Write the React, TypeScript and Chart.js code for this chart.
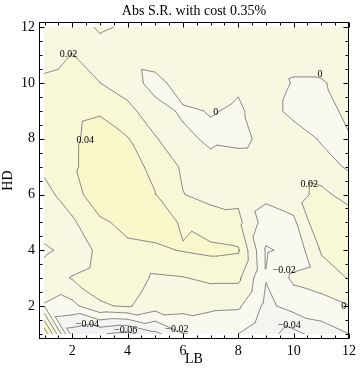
import React, { useEffect, useRef } from 'react';
import { Chart, registerables } from 'chart.js';

Chart.register(...registerables);

// ---- data: Abs S.R. (with 0.35% cost) sampled on the LB x HD grid ----
const LB = [1, 2, 3, 4, 5, 6, 7, 8, 9, 10, 11, 12];
const HD = [1, 2, 3, 4, 5, 6, 7, 8, 9, 10, 11, 12];

// one row per HD value, values listed for LB = 1..12
const srHD12 = [0.012, 0.012, 0.022, 0.018, 0.014, 0.012, 0.010, 0.010, 0.008, 0.006, 0.006, 0.008];
const srHD11 = [0.014, 0.0205, 0.013, 0.008, 0.012, 0.010, 0.008, 0.006, 0.005, 0.0035, 0.005, 0.006];
const srHD10 = [0.0232, 0.026, 0.0202, 0.010, -0.0077, 0.0106, 0.006, 0.002, 0.007, -0.001, -0.001, 0.004];
const srHD9 = [0.028, 0.0359, 0.0384, 0.026, 0.0077, -0.003, 0.001, -0.002, 0.0067, -0.0045, -0.005, 0.003];
const srHD8 = [0.030, 0.037, 0.047, 0.041, 0.0217, 0.0045, -0.0034, -0.006, 0.006, 0.008, -0.0015, -0.001];
const srHD7 = [0.024, 0.037, 0.050, 0.046, 0.036, 0.017, 0.006, 0.0116, 0.012, 0.012, 0.006, -0.002];
const srHD6 = [0.014, 0.030, 0.055, 0.052, 0.0405, 0.0205, 0.014, 0.015, 0.005, 0.012, 0.0263, 0.010];
const srHD5 = [0.010, 0.017, 0.036, 0.0463, 0.048, 0.038, 0.030, 0.025, -0.010, -0.004, 0.039, 0.035];
const srHD4 = [-0.003, 0.006, 0.0252, 0.035, 0.037, 0.041, 0.0443, 0.042, -0.022, -0.015, 0.022, 0.030];
const srHD3 = [0.0085, 0.0213, 0.028, 0.030, 0.017, 0.019, 0.024, 0.024, -0.019, 0.004, 0.010, 0.021];
const srHD2 = [-0.001, -0.006, 0.018, 0.022, 0.010, 0.008, 0.004, 0.003, -0.025, -0.012, -0.008, -0.0005];
const srHD1 = [0.075, -0.050, -0.058, -0.066, -0.045, -0.021, -0.015, -0.020, -0.035, -0.046, -0.030, -0.020];

const srRows = [srHD1, srHD2, srHD3, srHD4, srHD5, srHD6, srHD7, srHD8, srHD9, srHD10, srHD11, srHD12];

const contourLevels = [-0.06, -0.04, -0.02, 0, 0.02, 0.04, 0.06];
// colour of each band: below first level, between levels ..., above last level
const bandColors = ['#E9ECF2', '#EFF1F2', '#F4F5F0', '#F9F9EF', '#F8F8E2', '#F8F8D6', '#F8F8CA', '#F6F6B4'];

const majorTicks = [2, 4, 6, 8, 10, 12];
const minorTickStep = 0.5;

const contourLabels = [
  { text: '0.02', lb: 1.87, hd: 11.02 },
  { text: '0.04', lb: 2.47, hd: 7.94 },
  { text: '0', lb: 7.19, hd: 8.96 },
  { text: '0', lb: 10.95, hd: 10.31 },
  { text: '0.02', lb: 10.56, hd: 6.38 },
  { text: '\u22120.02', lb: 9.66, hd: 3.29 },
  { text: '0', lb: 11.81, hd: 1.98 },
  { text: '\u22120.04', lb: 9.84, hd: 1.32 },
  { text: '\u22120.02', lb: 5.78, hd: 1.17 },
  { text: '\u22120.04', lb: 2.55, hd: 1.35 },
  { text: '\u22120.06', lb: 3.93, hd: 1.11 },
];

const TITLE = 'Abs S.R. with cost 0.35%';
const SERIF = '"Liberation Serif", "Times New Roman", Times, serif';

type V = { x: number; y: number; z: number };

function buildTriangles(): V[][] {
  const out: V[][] = [];
  for (let j = 0; j < HD.length - 1; j++) {
    for (let i = 0; i < LB.length - 1; i++) {
      const a = { x: LB[i], y: HD[j], z: srRows[j][i] };
      const b = { x: LB[i + 1], y: HD[j], z: srRows[j][i + 1] };
      const c = { x: LB[i], y: HD[j + 1], z: srRows[j + 1][i] };
      const d = { x: LB[i + 1], y: HD[j + 1], z: srRows[j + 1][i + 1] };
      out.push([a, b, c], [b, d, c]);
    }
  }
  return out;
}

function clipAbove(poly: V[], level: number): V[] {
  const out: V[] = [];
  for (let i = 0; i < poly.length; i++) {
    const a = poly[i];
    const b = poly[(i + 1) % poly.length];
    const ina = a.z >= level;
    const inb = b.z >= level;
    if (ina) out.push(a);
    if (ina !== inb) {
      const t = (level - a.z) / (b.z - a.z);
      out.push({ x: a.x + t * (b.x - a.x), y: a.y + t * (b.y - a.y), z: level });
    }
  }
  return out;
}

function contourSegments(tris: V[][], level: number) {
  const pts: { x: number; y: number }[] = [];
  for (const t of tris) {
    const cross: { x: number; y: number }[] = [];
    for (let k = 0; k < 3; k++) {
      const p = t[k];
      const q = t[(k + 1) % 3];
      if ((p.z >= level) !== (q.z >= level)) {
        const s = (level - p.z) / (q.z - p.z);
        cross.push({ x: p.x + s * (q.x - p.x), y: p.y + s * (q.y - p.y) });
      }
    }
    if (cross.length === 2) pts.push(cross[0], cross[1], { x: NaN, y: NaN });
  }
  return pts;
}

export default function App() {
  const ref = useRef<HTMLCanvasElement>(null);

  useEffect(() => {
    const tris = buildTriangles();

    const fillPlugin = {
      id: 'contourFill',
      beforeDatasetsDraw(chart: any) {
        const { ctx, scales } = chart;
        const xs = scales.x;
        const ys = scales.y;
        ctx.save();
        ctx.fillStyle = bandColors[0];
        ctx.beginPath();
        const x0 = xs.getPixelForValue(LB[0]);
        const x1 = xs.getPixelForValue(LB[LB.length - 1]);
        const y0 = ys.getPixelForValue(HD[0]);
        const y1 = ys.getPixelForValue(HD[HD.length - 1]);
        ctx.rect(x0, y1, x1 - x0, y0 - y1);
        ctx.fill();
        contourLevels.forEach((lv, k) => {
          ctx.beginPath();
          for (const t of tris) {
            const poly = clipAbove(t, lv);
            if (poly.length < 3) continue;
            poly.forEach((p, i) => {
              const px = xs.getPixelForValue(p.x);
              const py = ys.getPixelForValue(p.y);
              if (i === 0) ctx.moveTo(px, py);
              else ctx.lineTo(px, py);
            });
            ctx.closePath();
          }
          ctx.fillStyle = bandColors[k + 1];
          ctx.fill();
        });
        ctx.restore();
      },
      afterDatasetsDraw(chart: any) {
        const { ctx, scales, chartArea } = chart;
        const xs = scales.x;
        const ys = scales.y;
        ctx.save();
        // contour labels
        ctx.fillStyle = '#000';
        ctx.font = `10px ${SERIF}`;
        ctx.textAlign = 'center';
        ctx.textBaseline = 'middle';
        for (const l of contourLabels) {
          ctx.fillText(l.text, xs.getPixelForValue(l.lb), ys.getPixelForValue(l.hd));
        }
        // frame
        const L = Math.round(chartArea.left) + 0.5;
        const R = Math.round(chartArea.right) - 0.5;
        const T = Math.round(chartArea.top) + 0.5;
        const B = Math.round(chartArea.bottom) - 0.5;
        ctx.strokeStyle = '#000';
        ctx.lineWidth = 1;
        ctx.strokeRect(L, T, R - L, B - T);
        ctx.beginPath();
        for (let v = LB[0]; v <= LB[LB.length - 1] + 1e-9; v += minorTickStep) {
          const len = majorTicks.includes(v) ? 5 : 3;
          const px = Math.round(xs.getPixelForValue(v)) + 0.5;
          ctx.moveTo(px, B);
          ctx.lineTo(px, B - len);
          ctx.moveTo(px, T);
          ctx.lineTo(px, T + len);
        }
        for (let v = HD[0]; v <= HD[HD.length - 1] + 1e-9; v += minorTickStep) {
          const len = majorTicks.includes(v) ? 5 : 3;
          const py = Math.round(ys.getPixelForValue(v)) + 0.5;
          ctx.moveTo(L, py);
          ctx.lineTo(L + len, py);
          ctx.moveTo(R, py);
          ctx.lineTo(R - len, py);
        }
        ctx.stroke();
        ctx.restore();
      },
    };

    const datasets = contourLevels.map((lv) => ({
      label: `contour ${lv}`,
      data: contourSegments(tris, lv),
      showLine: true,
      borderColor: '#8a8a8a',
      borderWidth: 1,
      borderCapStyle: 'round' as const,
      borderJoinStyle: 'round' as const,
      pointRadius: 0,
      pointHoverRadius: 0,
      fill: false,
      spanGaps: false,
      tension: 0,
    }));

    const tickFont = { family: SERIF, size: 14 };

    const chart = new Chart(ref.current as HTMLCanvasElement, {
      type: 'scatter',
      data: { datasets },
      options: {
        responsive: false,
        animation: false,
        events: [],
        layout: { padding: { left: 0, right: 7, top: 0, bottom: 0 } },
        plugins: {
          legend: { display: false },
          tooltip: { enabled: false },
          title: {
            display: true,
            text: TITLE,
            fullSize: false,
            color: '#000',
            font: { family: SERIF, size: 14, weight: 'normal' },
            padding: { top: 3, bottom: 2 },
          },
        },
        scales: {
          x: {
            type: 'linear',
            min: 0.8,
            max: 12,
            grid: { display: false, drawTicks: false },
            border: { display: false },
            ticks: { font: tickFont, color: '#000', padding: 4, maxRotation: 0, autoSkip: false },
            afterBuildTicks: (s: any) => {
              s.ticks = majorTicks.map((v) => ({ value: v }));
            },
            title: {
              display: true,
              text: 'LB',
              color: '#000',
              font: { family: SERIF, size: 14 },
              padding: { top: -13, bottom: 12 },
            },
          },
          y: {
            type: 'linear',
            min: 0.8,
            max: 12.2,
            grid: { display: false, drawTicks: false },
            border: { display: false },
            ticks: { font: tickFont, color: '#000', padding: 4, autoSkip: false },
            afterBuildTicks: (s: any) => {
              s.ticks = majorTicks.map((v) => ({ value: v }));
            },
            afterFit: (s: any) => {
              s.width = 39;
            },
            title: {
              display: true,
              text: 'HD',
              color: '#000',
              font: { family: SERIF, size: 14 },
              padding: { top: 0, bottom: 0 },
            },
          },
        },
      },
      plugins: [fillPlugin],
    } as any);

    return () => chart.destroy();
  }, []);

  return (
    <div style={{ position: 'fixed', left: 0, top: 0, width: 360, height: 380, background: '#fff' }}>
      <canvas ref={ref} width={360} height={380} style={{ display: 'block', width: 360, height: 380 }} />
    </div>
  );
}
